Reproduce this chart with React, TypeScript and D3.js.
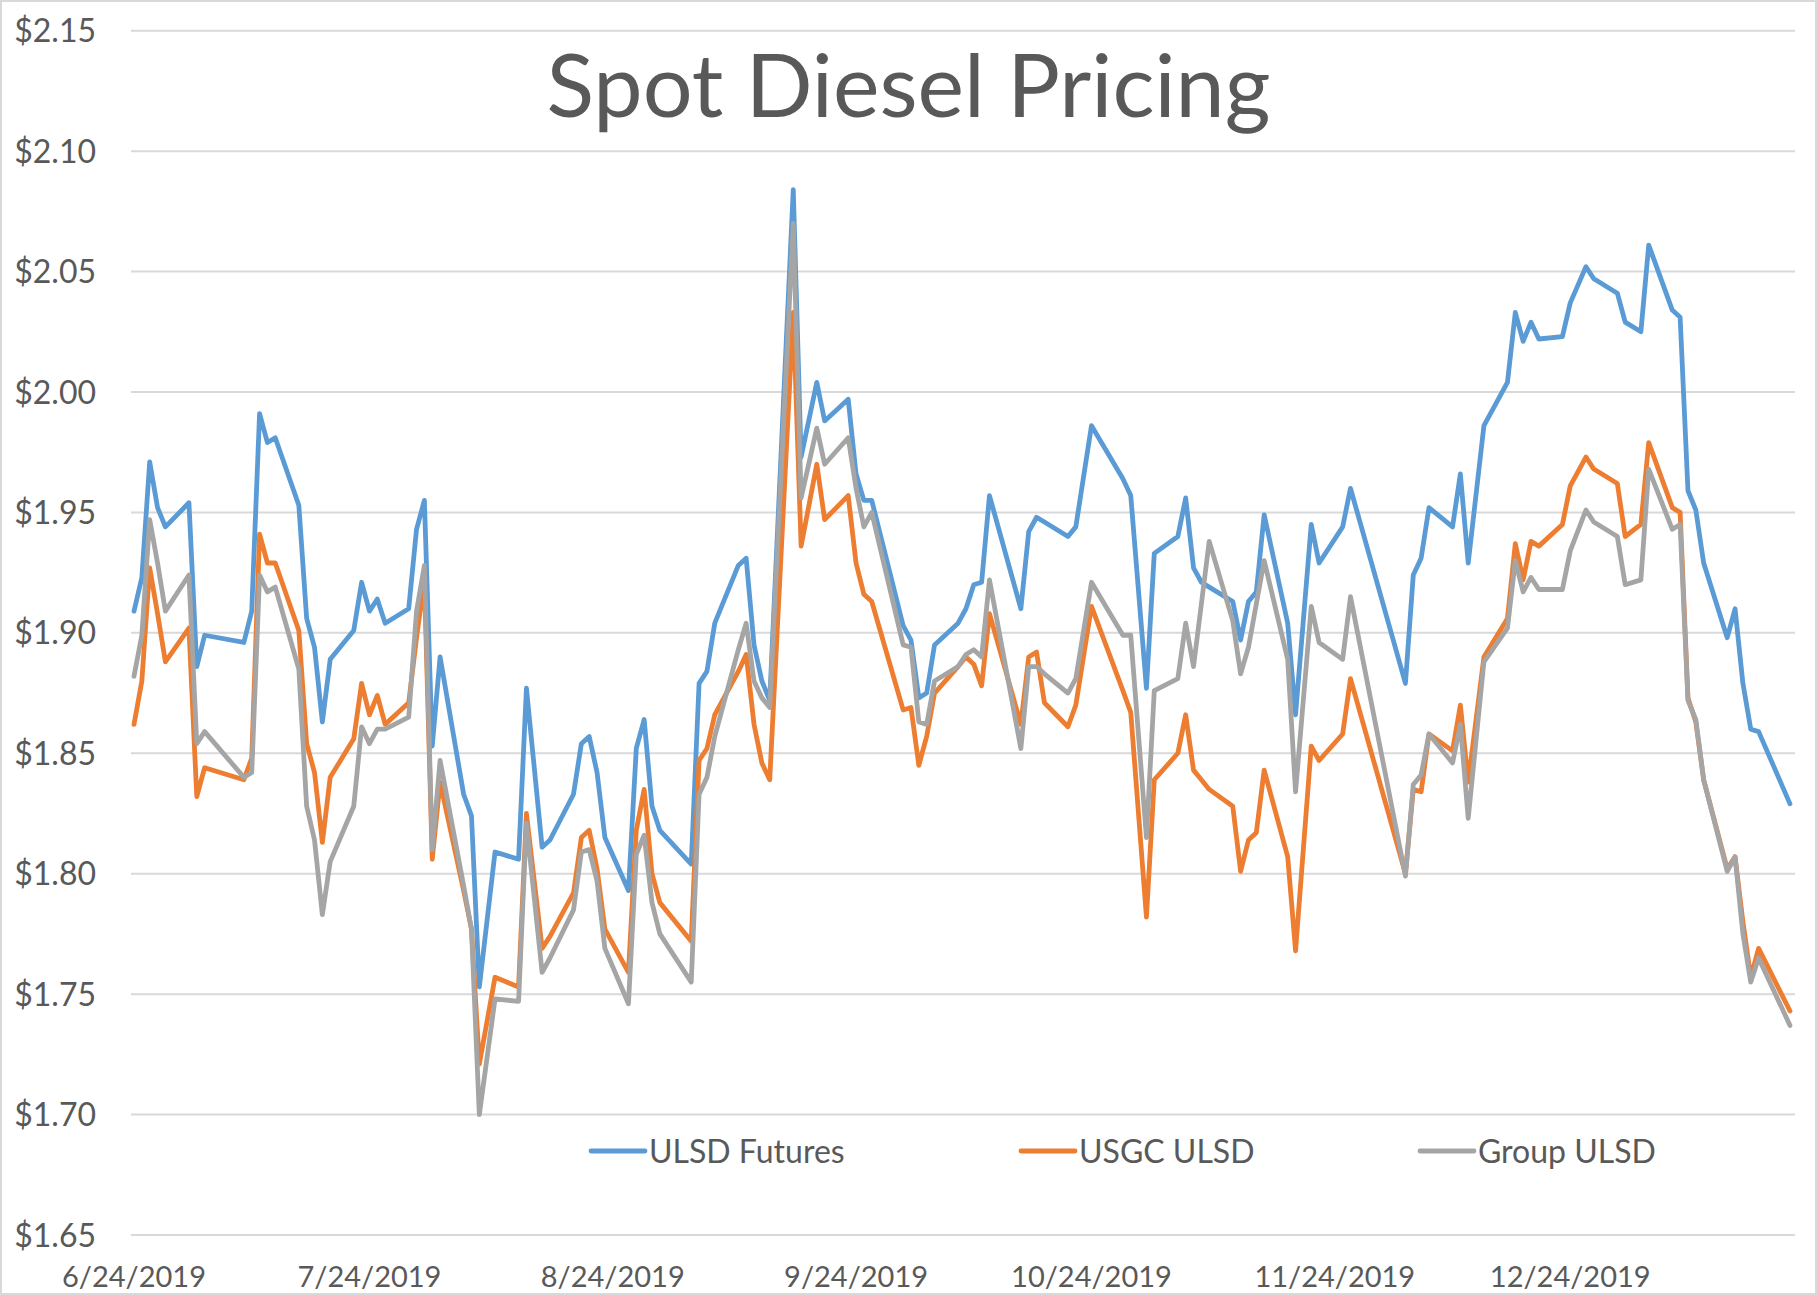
import React, { useMemo } from "react";
import * as d3 from "d3";

const WIDTH = 1817;
const HEIGHT = 1295;
const PLOT = { left: 131, right: 1795, top: 30.7, bottom: 1235 };
const FONT = "Lato, 'Open Sans', sans-serif";
const TEXT_COLOR = "#595959";

// trading days (only the days where a line bends)
const dates = [
  "2019-06-24", "2019-06-25", "2019-06-26", "2019-06-27", "2019-06-28", "2019-07-01", "2019-07-02", "2019-07-03",
  "2019-07-08", "2019-07-09", "2019-07-10", "2019-07-11", "2019-07-12", "2019-07-15", "2019-07-16", "2019-07-17",
  "2019-07-18", "2019-07-19", "2019-07-22", "2019-07-23", "2019-07-24", "2019-07-25", "2019-07-26", "2019-07-29",
  "2019-07-30", "2019-07-31", "2019-08-01", "2019-08-02", "2019-08-05", "2019-08-06", "2019-08-07", "2019-08-09",
  "2019-08-12", "2019-08-13", "2019-08-15", "2019-08-16", "2019-08-19", "2019-08-20", "2019-08-21", "2019-08-22",
  "2019-08-23", "2019-08-26", "2019-08-27", "2019-08-28", "2019-08-29", "2019-08-30", "2019-09-03", "2019-09-04",
  "2019-09-05", "2019-09-06", "2019-09-09", "2019-09-10", "2019-09-11", "2019-09-12", "2019-09-13", "2019-09-16",
  "2019-09-17", "2019-09-19", "2019-09-20", "2019-09-23", "2019-09-24", "2019-09-25", "2019-09-26", "2019-09-30",
  "2019-10-01", "2019-10-02", "2019-10-03", "2019-10-04", "2019-10-07", "2019-10-08", "2019-10-09", "2019-10-10",
  "2019-10-11", "2019-10-15", "2019-10-16", "2019-10-17", "2019-10-18", "2019-10-21", "2019-10-22", "2019-10-24",
  "2019-10-28", "2019-10-29", "2019-10-31", "2019-11-01", "2019-11-04", "2019-11-05", "2019-11-06", "2019-11-07",
  "2019-11-08", "2019-11-11", "2019-11-12", "2019-11-13", "2019-11-14", "2019-11-15", "2019-11-18", "2019-11-19",
  "2019-11-21", "2019-11-22", "2019-11-25", "2019-11-26", "2019-12-03", "2019-12-04", "2019-12-05", "2019-12-06",
  "2019-12-09", "2019-12-10", "2019-12-11", "2019-12-13", "2019-12-16", "2019-12-17", "2019-12-18", "2019-12-19",
  "2019-12-20", "2019-12-23", "2019-12-24", "2019-12-26", "2019-12-27", "2019-12-30", "2019-12-31", "2020-01-02",
  "2020-01-03", "2020-01-06", "2020-01-07", "2020-01-08", "2020-01-09", "2020-01-10", "2020-01-13", "2020-01-14",
  "2020-01-15", "2020-01-16", "2020-01-17", "2020-01-21",
];

const ulsdFutures = [
  1.909, 1.923, 1.971, 1.952, 1.944, 1.954, 1.886, 1.899,
  1.896, 1.909, 1.991, 1.979, 1.981, 1.953, 1.906, 1.894,
  1.863, 1.889, 1.901, 1.921, 1.909, 1.914, 1.904, 1.910,
  1.943, 1.955, 1.853, 1.890, 1.833, 1.824, 1.753, 1.809,
  1.806, 1.877, 1.811, 1.814, 1.833, 1.854, 1.857, 1.842,
  1.815, 1.793, 1.852, 1.864, 1.828, 1.818, 1.804, 1.879,
  1.884, 1.904, 1.928, 1.931, 1.895, 1.880, 1.872, 2.084,
  1.973, 2.004, 1.988, 1.997, 1.966, 1.955, 1.955, 1.903,
  1.897, 1.873, 1.875, 1.895, 1.904, 1.910, 1.920, 1.921,
  1.957, 1.910, 1.942, 1.948, 1.946, 1.940, 1.944, 1.986,
  1.964, 1.957, 1.877, 1.933, 1.940, 1.956, 1.927, 1.921,
  1.919, 1.913, 1.897, 1.913, 1.917, 1.949, 1.904, 1.866,
  1.945, 1.929, 1.944, 1.960, 1.879, 1.924, 1.931, 1.952,
  1.944, 1.966, 1.929, 1.986, 2.004, 2.033, 2.021, 2.029,
  2.022, 2.023, 2.037, 2.052, 2.047, 2.041, 2.029, 2.025,
  2.061, 2.034, 2.031, 1.959, 1.951, 1.929, 1.898, 1.910,
  1.879, 1.860, 1.859, 1.829,
];

const usgcUlsd = [
  1.862, 1.880, 1.927, 1.908, 1.888, 1.902, 1.832, 1.844,
  1.839, 1.848, 1.941, 1.929, 1.929, 1.901, 1.854, 1.842,
  1.813, 1.840, 1.856, 1.879, 1.866, 1.874, 1.862, 1.871,
  1.898, 1.922, 1.806, 1.838, 1.793, 1.777, 1.721, 1.757,
  1.753, 1.825, 1.769, 1.774, 1.792, 1.815, 1.818, 1.802,
  1.777, 1.759, 1.818, 1.835, 1.800, 1.788, 1.772, 1.847,
  1.852, 1.866, 1.884, 1.891, 1.862, 1.846, 1.839, 2.033,
  1.936, 1.970, 1.947, 1.957, 1.929, 1.916, 1.913, 1.868,
  1.869, 1.845, 1.857, 1.875, 1.886, 1.890, 1.887, 1.878,
  1.908, 1.862, 1.890, 1.892, 1.871, 1.861, 1.870, 1.911,
  1.876, 1.867, 1.782, 1.839, 1.850, 1.866, 1.843, 1.839,
  1.835, 1.828, 1.801, 1.814, 1.817, 1.843, 1.807, 1.768,
  1.853, 1.847, 1.858, 1.881, 1.800, 1.835, 1.834, 1.858,
  1.851, 1.870, 1.838, 1.890, 1.906, 1.937, 1.922, 1.938,
  1.936, 1.945, 1.961, 1.973, 1.968, 1.962, 1.940, 1.945,
  1.979, 1.952, 1.950, 1.873, 1.863, 1.839, 1.802, 1.807,
  1.780, 1.757, 1.769, 1.743,
];

const groupUlsd = [
  1.882, 1.899, 1.947, 1.929, 1.909, 1.924, 1.854, 1.859,
  1.840, 1.842, 1.924, 1.917, 1.919, 1.885, 1.828, 1.814,
  1.783, 1.805, 1.828, 1.861, 1.854, 1.860, 1.860, 1.865,
  1.909, 1.928, 1.810, 1.847, 1.795, 1.777, 1.700, 1.748,
  1.747, 1.821, 1.759, 1.765, 1.785, 1.809, 1.810, 1.797,
  1.769, 1.746, 1.808, 1.816, 1.788, 1.775, 1.755, 1.833,
  1.840, 1.857, 1.893, 1.904, 1.880, 1.873, 1.869, 2.070,
  1.956, 1.985, 1.970, 1.981, 1.960, 1.944, 1.950, 1.895,
  1.894, 1.863, 1.862, 1.880, 1.886, 1.891, 1.893, 1.890,
  1.922, 1.852, 1.886, 1.886, 1.883, 1.875, 1.881, 1.921,
  1.899, 1.899, 1.815, 1.876, 1.881, 1.904, 1.886, 1.912,
  1.938, 1.905, 1.883, 1.894, 1.912, 1.930, 1.889, 1.834,
  1.911, 1.896, 1.889, 1.915, 1.799, 1.837, 1.841, 1.858,
  1.846, 1.862, 1.823, 1.888, 1.902, 1.930, 1.917, 1.923,
  1.918, 1.918, 1.934, 1.951, 1.946, 1.940, 1.920, 1.922,
  1.968, 1.943, 1.945, 1.872, 1.864, 1.839, 1.801, 1.807,
  1.775, 1.755, 1.765, 1.737,
];

const seriesNames = ["ULSD Futures", "USGC ULSD", "Group ULSD"];
const seriesColors = ["#5B9BD5", "#ED7D31", "#A5A5A5"];
const yTicks = [1.65, 1.7, 1.75, 1.8, 1.85, 1.9, 1.95, 2.0, 2.05, 2.1, 2.15];
const xTickDates = ["2019-06-24", "2019-07-24", "2019-08-24", "2019-09-24", "2019-10-24", "2019-11-24", "2019-12-24"];
const legendX = [591, 1021, 1420];

const parseDate = d3.timeParse("%Y-%m-%d");
const formatDate = d3.timeFormat("%-m/%-d/%Y");

const App = () => {
  const xScale = useMemo(
    () =>
      d3.scaleTime()
        .domain([parseDate("2019-06-24"), parseDate("2020-01-21")])
        .range([134, 1790]),
    []
  );

  const yScale = useMemo(
    () => d3.scaleLinear().domain([1.65, 2.15]).range([PLOT.bottom, PLOT.top]),
    []
  );

  const paths = useMemo(() => {
    const parsed = dates.map(parseDate);
    const lineBuilder = d3.line()
      .x((d) => xScale(d[0]))
      .y((d) => yScale(d[1]));
    return [ulsdFutures, usgcUlsd, groupUlsd].map((vals) =>
      lineBuilder(vals.map((v, i) => [parsed[i], v]))
    );
  }, [xScale, yScale]);

  return (
    <svg
      width={WIDTH}
      height={HEIGHT}
      style={{ position: "absolute", left: 0, top: 0, background: "#fff" }}
      fontFamily={FONT}
    >
      <rect x={1} y={1} width={WIDTH - 2} height={HEIGHT - 2} fill="#fff" stroke="#d9d9d9" strokeWidth={2} />

      {/* gridlines + y labels */}
      {yTicks.map((t) => (
        <g key={t}>
          <line
            x1={PLOT.left}
            x2={PLOT.right}
            y1={yScale(t)}
            y2={yScale(t)}
            stroke="#d9d9d9"
            strokeWidth={2}
          />
          <text
            x={96}
            y={yScale(t)}
            dy="0.36em"
            textAnchor="end"
            fontSize={32}
            fill={TEXT_COLOR}
          >
            {"$" + t.toFixed(2)}
          </text>
        </g>
      ))}

      {/* x labels */}
      {xTickDates.map((d) => (
        <text
          key={d}
          x={xScale(parseDate(d))}
          y={1287}
          textAnchor="middle"
          fontSize={29}
          fill={TEXT_COLOR}
        >
          {formatDate(parseDate(d))}
        </text>
      ))}

      {/* title */}
      <text x={WIDTH / 2} y={117} textAnchor="middle" fontSize={88} fill={TEXT_COLOR}>
        Spot Diesel Pricing
      </text>

      {/* series */}
      {paths.map((p, i) => (
        <path
          key={seriesNames[i]}
          d={p}
          fill="none"
          stroke={seriesColors[i]}
          strokeWidth={4.8}
          strokeLinejoin="round"
          strokeLinecap="round"
        />
      ))}

      {/* legend */}
      {seriesNames.map((name, i) => (
        <g key={name} transform={`translate(${legendX[i]},1151)`}>
          <line x1={0} x2={54} y1={0} y2={0} stroke={seriesColors[i]} strokeWidth={4.8} strokeLinecap="round" />
          <text x={58} y={0} dy="0.36em" fontSize={32} fill={TEXT_COLOR}>
            {name}
          </text>
        </g>
      ))}
    </svg>
  );
};

export default App;
